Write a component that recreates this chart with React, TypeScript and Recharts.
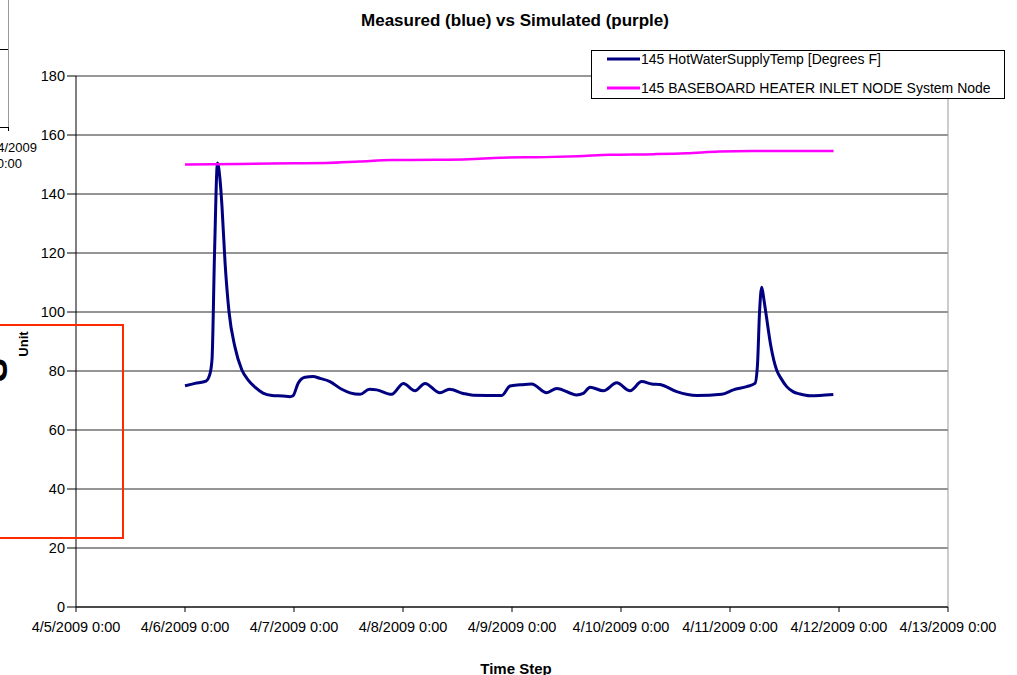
import React from 'react';
import { LineChart, Line, XAxis, YAxis, CartesianGrid, ReferenceLine } from 'recharts';

const FONT = '"Liberation Sans", Arial, sans-serif';

// x axis: days since 4/5/2009 0:00
const DAY_TICKS = [0, 1, 2, 3, 4, 5, 6, 7, 8];
const DAY_LABELS = [
  '4/5/2009 0:00', '4/6/2009 0:00', '4/7/2009 0:00', '4/8/2009 0:00', '4/9/2009 0:00',
  '4/10/2009 0:00', '4/11/2009 0:00', '4/12/2009 0:00', '4/13/2009 0:00',
];
const Y_TICKS = [0, 20, 40, 60, 80, 100, 120, 140, 160, 180];

// measured - 145 HotWaterSupplyTemp [Degrees F]
const MEASURED_T = [
  1.0, 1.092, 1.193, 1.229, 1.248, 1.271, 1.298, 1.321, 1.339, 1.367, 1.404, 1.459, 1.52, 1.578,
  1.642, 1.716, 1.798, 1.899, 1.963, 1.991, 2.037, 2.101, 2.174, 2.239, 2.33, 2.438, 2.514, 2.606,
  2.691, 2.759, 2.896, 3.003, 3.11, 3.202, 3.339, 3.425, 3.553, 3.645, 3.906, 3.982, 4.073, 4.181,
  4.318, 4.41, 4.593, 4.654, 4.716, 4.838, 4.961, 5.083, 5.19, 5.282, 5.358, 5.511, 5.694, 5.924,
  6.03, 6.153, 6.229, 6.252, 6.271, 6.291, 6.312, 6.33, 6.376, 6.428, 6.468, 6.52, 6.578, 6.642,
  6.734, 6.826, 6.948,
];
const MEASURED_F = [
  75.0, 75.8, 76.6, 79, 84, 120, 150.5, 145, 136, 117, 100, 88, 80.5, 77,
  74.5, 72.5, 71.7, 71.5, 71.3, 71.6, 75.8, 77.9, 78.1, 77.5, 76.4, 73.8, 72.6, 72.1,
  73.8, 73.6, 72.1, 75.8, 73.3, 75.8, 72.6, 73.8, 72.4, 71.8, 71.7, 74.9, 75.3, 75.6,
  72.6, 74.1, 71.9, 72.4, 74.5, 73.3, 76.0, 73.3, 76.4, 75.6, 75.4, 73.0, 71.7, 72.1,
  73.6, 74.7, 75.8, 82, 100, 108.4, 104, 99.5, 88.2, 80.3, 77.5, 74.7, 73, 72.2,
  71.6, 71.7, 72.0,
];

// simulated - 145 BASEBOARD HEATER INLET NODE System Node
const SIM_T = [1.0, 1.5, 2.0, 2.3, 2.6, 2.9, 3.3, 3.6, 3.9, 4.3, 4.6, 4.9, 5.3, 5.6, 5.9, 6.2, 6.95];
const SIM_F = [150.0, 150.2, 150.4, 150.5, 151.0, 151.5, 151.6, 151.8, 152.3, 152.5, 152.8, 153.3, 153.5, 153.8, 154.4, 154.6, 154.6];

const measured = MEASURED_T.map((t, i) => ({ t, v: MEASURED_F[i] }));
const simulated = SIM_T.map((t, i) => ({ t, v: SIM_F[i] }));

const LEGEND = [
  { label: '145 HotWaterSupplyTemp [Degrees F]', color: '#000080' },
  { label: '145 BASEBOARD HEATER INLET NODE System Node', color: '#ff00ff' },
];

export default function App() {
  return (
    <div style={{ position: 'absolute', left: 0, top: 0, width: 1017, height: 675, background: '#fff' }}>
      <LineChart width={1017} height={675} margin={{ top: 76, right: 69, bottom: 28, left: 0 }}>
        <CartesianGrid vertical={false} stroke="#2a2a2a" strokeDasharray="" />
        <XAxis
          type="number"
          dataKey="t"
          domain={[0, 8]}
          ticks={DAY_TICKS}
          interval={0}
          tickFormatter={(d) => DAY_LABELS[d]}
          height={40}
          tickSize={5}
          tickMargin={10}
          axisLine={{ stroke: '#000' }}
          tickLine={{ stroke: '#000' }}
          tick={{ fill: '#000', fontSize: 14.5, fontFamily: FONT }}
        />
        <YAxis
          type="number"
          domain={[0, 180]}
          ticks={Y_TICKS}
          interval={0}
          width={76}
          tickSize={9}
          tickMargin={2}
          axisLine={{ stroke: '#000' }}
          tickLine={{ stroke: '#000' }}
          tick={{ fill: '#000', fontSize: 14.5, fontFamily: FONT }}
        />
        <ReferenceLine y={180} stroke="#999" />
        <ReferenceLine x={8} stroke="#999" />
        <Line
          data={measured}
          dataKey="v"
          type="monotone"
          stroke="#000080"
          strokeWidth={3}
          dot={false}
          activeDot={false}
          isAnimationActive={false}
        />
        <Line
          data={simulated}
          dataKey="v"
          type="monotone"
          stroke="#ff00ff"
          strokeWidth={2.5}
          dot={false}
          activeDot={false}
          isAnimationActive={false}
        />
      </LineChart>

      <svg
        width={1017}
        height={675}
        style={{ position: 'absolute', left: 0, top: 0, pointerEvents: 'none' }}
        fontFamily={FONT}
      >
        {/* title + axis title */}
        <text x={515} y={20} textAnchor="middle" dominantBaseline="central" fontSize={17} fontWeight="bold">
          Measured (blue) vs Simulated (purple)
        </text>
        <text x={516} y={668} textAnchor="middle" dominantBaseline="central" fontSize={15} fontWeight="bold">
          Time Step
        </text>

        {/* leftovers of another chart peeking in at the left edge */}
        <line x1={8.5} y1={0} x2={8.5} y2={127} stroke="#999" />
        <line x1={0} y1={49.5} x2={8} y2={49.5} stroke="#000" />
        <line x1={0} y1={127.5} x2={9} y2={127.5} stroke="#000" />
        <line x1={8.5} y1={127} x2={8.5} y2={131} stroke="#000" />
        <text x={37} y={147} textAnchor="end" dominantBaseline="central" fontSize={13}>4/4/2009</text>
        <text x={22} y={163} textAnchor="end" dominantBaseline="central" fontSize={13}>0:00</text>
        <rect x={-5} y={325} width={128} height={213} fill="none" stroke="#ff2a00" strokeWidth={2} />
        <text transform="translate(7,370) rotate(-90)" textAnchor="middle" fontSize={36} fontWeight="bold">S</text>
        <text transform="translate(28,344) rotate(-90)" textAnchor="middle" fontSize={13} fontWeight="bold">Unit</text>

        {/* legend */}
        <rect x={591.5} y={50.5} width={413} height={48} fill="#fff" stroke="#000" />
        {LEGEND.map((e, i) => (
          <g key={e.label}>
            <line x1={607} y1={59 + i * 29} x2={640} y2={59 + i * 29} stroke={e.color} strokeWidth={3} />
            <text x={641} y={59 + i * 29} dominantBaseline="central" fontSize={14} fill="#000">
              {e.label}
            </text>
          </g>
        ))}
      </svg>
    </div>
  );
}
